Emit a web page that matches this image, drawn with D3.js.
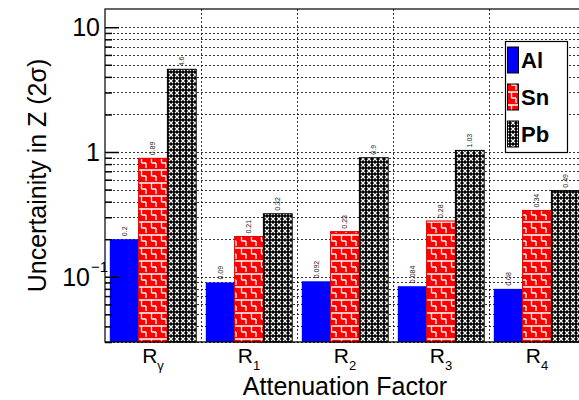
<!DOCTYPE html>
<html>
<head>
<meta charset="utf-8">
<script src="https://cdn.jsdelivr.net/npm/d3@7"></script>
<style>
  body { margin: 0; background: #fff; }
  svg { display: block; font-family: "Liberation Sans", Arial, sans-serif; }
</style>
</head>
<body>
<div id="chart"></div>
<script>
// Attenuation factor groups (subscript of R)
var factors = ['γ', '1', '2', '3', '4'];
var materials = ['Al', 'Sn', 'Pb'];
// uncertainty values per material
var alValues = [0.2, 0.09, 0.092, 0.084, 0.08];
var snValues = [0.89, 0.21, 0.23, 0.28, 0.34];
var pbValues = [4.6, 0.32, 0.9, 1.03, 0.49];
var majorTicks = [0.1, 1, 10];

var width = 579, height = 400;
var frame = {left: 105, top: 9, bottom: 342, binWidth: 96};

var svg = d3.select('#chart').append('svg')
    .attr('width', width)
    .attr('height', height);

// patterns for Sn (red bricks) and Pb (black crosses)
var defs = svg.append('defs');
var brick = defs.append('pattern').attr('id', 'brick')
    .attr('patternUnits', 'userSpaceOnUse').attr('width', 10).attr('height', 13);
brick.append('rect').attr('width', 10).attr('height', 13).attr('fill', '#ff0000');
brick.append('path')
    .attr('d', 'M0,1H10 M1.5,1V7 M1.5,7H6 M6,7V12')
    .attr('stroke', '#fff').attr('stroke-width', 1.3).attr('fill', 'none');
var cross = defs.append('pattern').attr('id', 'cross')
    .attr('patternUnits', 'userSpaceOnUse').attr('width', 6).attr('height', 6);
cross.append('rect').attr('width', 6).attr('height', 6).attr('fill', '#000');
cross.append('path')
    .attr('d', 'M1,1L5,5 M5,1L1,5')
    .attr('stroke', '#fff').attr('stroke-width', 1.1);

var fills = {Al: '#0000ff', Sn: 'url(#brick)', Pb: 'url(#cross)'};
var strokes = {Al: 'none', Sn: '#e00000', Pb: '#000'};

// scales
var x = d3.scaleBand()
    .domain(factors)
    .range([frame.left, frame.left + factors.length * frame.binWidth])
    .paddingInner(0).paddingOuter(0);
var xSub = d3.scaleBand()
    .domain(materials)
    .range([0, x.bandwidth()])
    .paddingInner(0).paddingOuter(1 / 6);
var y = d3.scaleLog()
    .domain([0.03, 14])
    .range([frame.bottom, frame.top]);

var gridTicks = y.ticks();

// horizontal grid (behind bars)
svg.append('g').selectAll('line')
    .data(gridTicks)
    .enter().append('line')
    .attr('x1', frame.left).attr('x2', width)
    .attr('y1', function(d) { return Math.round(y(d)) + 0.5; })
    .attr('y2', function(d) { return Math.round(y(d)) + 0.5; })
    .attr('stroke', '#000').attr('stroke-width', 0.8)
    .attr('stroke-dasharray', '2,2');
// vertical grid at bin edges
svg.append('g').selectAll('line')
    .data(factors.slice(1))
    .enter().append('line')
    .attr('x1', function(d) { return x(d) + 0.5; })
    .attr('x2', function(d) { return x(d) + 0.5; })
    .attr('y1', frame.top).attr('y2', frame.bottom)
    .attr('stroke', '#000').attr('stroke-width', 0.8)
    .attr('stroke-dasharray', '2,2');

// bar data
var rows = [];
factors.forEach(function(f, i) {
    rows.push({factor: f, material: 'Al', value: alValues[i]});
    rows.push({factor: f, material: 'Sn', value: snValues[i]});
    rows.push({factor: f, material: 'Pb', value: pbValues[i]});
});

var bars = svg.append('g');
bars.selectAll('rect')
    .data(rows)
    .enter().append('rect')
    .attr('x', function(d) { return x(d.factor) + xSub(d.material); })
    .attr('y', function(d) { return y(d.value); })
    .attr('width', xSub.bandwidth())
    .attr('height', function(d) { return frame.bottom - y(d.value); })
    .attr('fill', function(d) { return fills[d.material]; })
    .attr('stroke', function(d) { return strokes[d.material]; })
    .attr('stroke-width', 1);

// rotated value labels
bars.selectAll('text')
    .data(rows)
    .enter().append('text')
    .attr('transform', function(d) {
        var cx = x(d.factor) + xSub(d.material) + xSub.bandwidth() / 2;
        return 'translate(' + cx + ',' + (y(d.value) - 3) + ') rotate(-90)';
    })
    .attr('dy', '0.35em')
    .attr('font-size', 7)
    .attr('fill', '#222')
    .text(function(d) { return String(d.value); });

// frame
svg.append('rect')
    .attr('x', frame.left).attr('y', frame.top)
    .attr('width', 600).attr('height', frame.bottom - frame.top)
    .attr('fill', 'none').attr('stroke', '#000').attr('stroke-width', 1.2);

// y axis ticks pointing inward
var minorAxis = d3.axisRight(y)
    .tickValues(gridTicks.filter(function(d) { return majorTicks.indexOf(d) < 0; }))
    .tickSize(7).tickFormat('');
var majorAxis = d3.axisRight(y)
    .tickValues(majorTicks)
    .tickSize(14).tickFormat('');
svg.append('g').attr('transform', 'translate(' + frame.left + ',0)').call(minorAxis);
svg.append('g').attr('transform', 'translate(' + frame.left + ',0)').call(majorAxis);
svg.selectAll('.domain').remove();
svg.selectAll('.tick line').attr('stroke', '#000').attr('stroke-width', 1.5);

// y tick labels
var yLabels = svg.append('g').attr('font-size', 25).attr('text-anchor', 'end');
majorTicks.forEach(function(t) {
    var lbl = yLabels.append('text')
        .attr('x', frame.left - 5)
        .attr('y', y(t))
        .attr('dy', '0.36em');
    if (t < 1) {
        lbl.attr('x', frame.left - 15).text('10');
        yLabels.append('text')
            .attr('x', frame.left - 14).attr('y', y(t) - 5)
            .attr('text-anchor', 'start')
            .attr('font-size', 15)
            .text('−1');
    } else {
        lbl.text(String(t));
    }
});

// x group labels R_sub
var xLabels = svg.append('g').attr('font-size', 21).attr('text-anchor', 'middle');
factors.forEach(function(f) {
    var t = xLabels.append('text')
        .attr('x', x(f) + x.bandwidth() / 2)
        .attr('y', 363);
    t.append('tspan').text('R');
    t.append('tspan').attr('font-size', 13).attr('dy', 7).text(f);
});

// axis titles
svg.append('text')
    .attr('x', frame.left + 2.5 * frame.binWidth).attr('y', 395)
    .attr('text-anchor', 'middle').attr('font-size', 25)
    .text('Attenuation Factor');
svg.append('text')
    .attr('transform', 'translate(46,' + ((frame.top + frame.bottom) / 2) + ') rotate(-90)')
    .attr('text-anchor', 'middle').attr('font-size', 25)
    .text('Uncertainity in Z (2σ)');

// legend
var legend = svg.append('g');
legend.append('rect')
    .attr('x', 505.5).attr('y', 41.5).attr('width', 62).attr('height', 111)
    .attr('fill', '#fff').attr('stroke', '#000').attr('stroke-width', 1.2);
var legendY = d3.scalePoint().domain(materials).range([60, 134]);
materials.forEach(function(m) {
    legend.append('rect')
        .attr('x', 507.5).attr('y', legendY(m) - 13)
        .attr('width', 11).attr('height', 26)
        .attr('fill', fills[m]).attr('stroke', '#000').attr('stroke-width', 1);
    legend.append('text')
        .attr('x', 521).attr('y', legendY(m) + 8)
        .attr('font-size', 22).attr('font-weight', 'bold')
        .text(m);
});
</script>
</body>
</html>
